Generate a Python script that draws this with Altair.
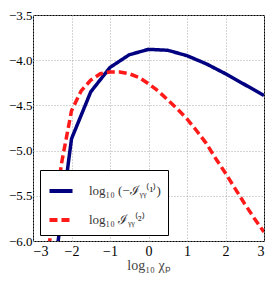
import altair as alt
import pandas as pd

label1 = "log₁₀ (−ℐᵧᵧ⁽¹⁾)"
label2 = "log₁₀ ℐᵧᵧ⁽²⁾"

x1 = [-2.5, -2.0, -1.5, -1.0, -0.5, 0.0, 0.5, 1.0, 1.5, 2.0, 2.5, 3.0]
y1 = [-6.5, -4.87, -4.35, -4.08, -3.94, -3.88, -3.89, -3.95, -4.04, -4.15, -4.27, -4.39]

x2 = [-2.75, -2.5, -2.25, -2.0, -1.75, -1.5, -1.25, -1.0, -0.75, -0.5, -0.25, 0.0,
      0.25, 0.5, 0.75, 1.0, 1.25, 1.5, 1.75, 2.0, 2.25, 2.5, 2.75, 3.0]
y2 = [-6.45, -5.83, -5.12, -4.56, -4.34, -4.22, -4.15, -4.13, -4.13, -4.15, -4.19, -4.26,
      -4.34, -4.44, -4.54, -4.65, -4.78, -4.92, -5.09, -5.25, -5.42, -5.59, -5.75, -5.9]

df = pd.concat([
    pd.DataFrame({"x": x1, "y": y1, "s": label1}),
    pd.DataFrame({"x": x2, "y": y2, "s": label2}),
])

font = "Liberation Serif"

chart = alt.Chart(df).mark_line(clip=True, strokeWidth=3.5).encode(
    x=alt.X("x:Q", scale=alt.Scale(domain=[-3, 3], nice=False),
            axis=alt.Axis(values=[-3, -2, -1, 0, 1, 2, 3], format="d", title="log₁₀ χₚ")),
    y=alt.Y("y:Q", scale=alt.Scale(domain=[-6, -3.5], nice=False),
            axis=alt.Axis(values=[-6.0, -5.5, -5.0, -4.5, -4.0, -3.5], format=".1f", title=None)),
    color=alt.Color("s:N", scale=alt.Scale(domain=[label1, label2], range=["#000080", "#ff1a1a"]),
                    legend=alt.Legend(title=None, orient="none", legendX=7, legendY=155,
                                      symbolType="stroke", symbolSize=530, symbolStrokeWidth=4,
                                      labelFont=font, labelFontSize=13, labelColor="#333333",
                                      fillColor="white", strokeColor="black", padding=7,
                                      rowPadding=7, labelOffset=14, labelLimit=200)),
    strokeDash=alt.StrokeDash("s:N", scale=alt.Scale(domain=[label1, label2], range=[[1, 0], [8, 4]]),
                              legend=None),
).properties(
    width=231, height=226,
    padding={"left": 25, "top": 7, "right": 1, "bottom": 32},
    autosize=alt.AutoSizeParams(type="none"),
).configure_view(
    stroke="black", strokeWidth=1
).configure_axis(
    grid=True, gridColor="#aaaaaa", gridDash=[1, 2], gridWidth=1,
    domain=False, ticks=False, tickSize=0,
    labelFont=font, labelFontSize=13, labelColor="black", labelPadding=1,
    titleFont=font, titleFontSize=14, titleFontWeight="normal", titleColor="#444444",
).configure_axisX(labelFontSize=14, labelPadding=3, titlePadding=0)

chart.save("out.html", embed_options={"renderer": "svg", "actions": False})
